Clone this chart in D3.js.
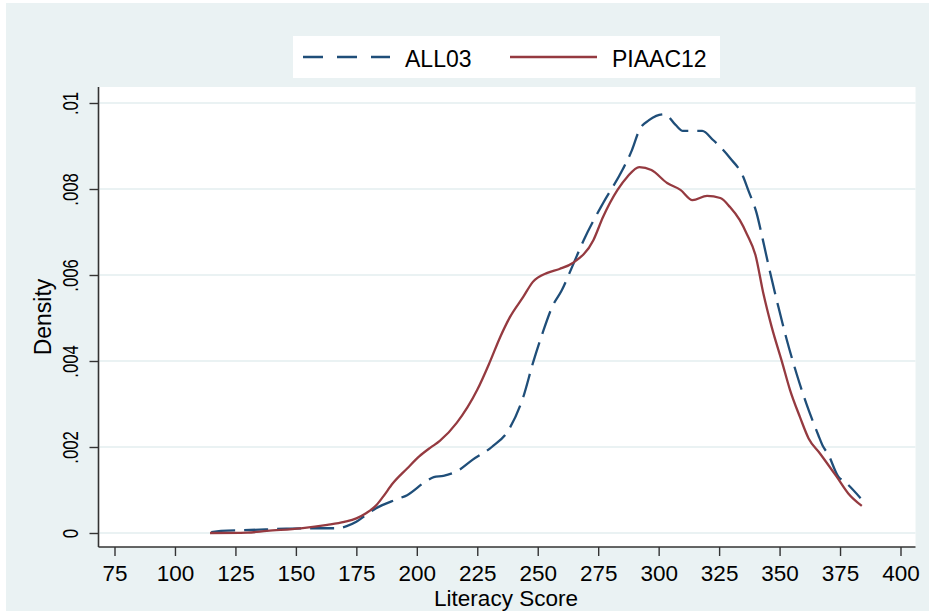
<!DOCTYPE html>
<html>
<head>
<meta charset="utf-8">
<script src="https://cdn.jsdelivr.net/npm/d3@7"></script>
<style>
    body { margin: 0; background: #ffffff; }
    svg { display: block; }
    text { font-family: "Liberation Sans", Arial, sans-serif; fill: #000; }
</style>
</head>
<body>
<script>
// Density estimates, one pair of arrays per survey.
var all03Score = [115, 119, 131, 146, 157, 167, 171, 175, 179, 183, 192, 196,
    204, 207, 211, 217, 223, 231, 238, 244, 248, 252, 256, 260, 264, 269, 277,
    285, 289, 292, 296, 299, 302.5, 307, 310, 318, 322.5, 329.5, 335, 337,
    340.5, 343, 346, 349.5, 353, 357, 361, 366, 368, 370, 374.3, 377, 383.5];
var all03Density = [0.00002, 0.00005, 0.00007, 0.0001, 0.00011, 0.00011,
    0.00016, 0.00026, 0.00042, 0.00057, 0.00079, 0.00088, 0.00121, 0.0013,
    0.00133, 0.00145, 0.0017, 0.002, 0.0024, 0.00316, 0.00395, 0.00465,
    0.00526, 0.00565, 0.00616, 0.00681, 0.00767, 0.00844, 0.00891, 0.00937,
    0.0096, 0.0097, 0.00974, 0.00949, 0.00935, 0.00935, 0.00914, 0.00872,
    0.00828, 0.00798, 0.00744, 0.00684, 0.00608, 0.00526, 0.00449, 0.00371,
    0.00302, 0.00228, 0.00201, 0.00184, 0.00131, 0.00119, 0.00081];

var piaacScore = [114.5, 130, 138, 152, 163, 170, 175, 179, 183, 186, 190,
    196, 201, 205.5, 209.5, 216.5, 225, 230, 234.5, 238.5, 244, 248, 254, 259,
    264.5, 273, 277, 283, 287, 292, 297, 303.5, 309, 314, 320, 325.5, 329.5,
    333.5, 336.5, 340, 343.3, 346.7, 351, 354.3, 358.4, 362, 366.7, 373.6,
    378.4, 384];
var piaacDensity = [0.0, 0.00001, 0.00005, 0.00011, 0.00019, 0.00026,
    0.00034, 0.00046, 0.00063, 0.00084, 0.00115, 0.0015, 0.00178, 0.00198,
    0.00214, 0.00256, 0.00333, 0.00395, 0.00456, 0.00502, 0.00549, 0.00584,
    0.00605, 0.00614, 0.00628, 0.00681, 0.00735, 0.00798, 0.00828, 0.00851,
    0.00844, 0.00814, 0.00798, 0.00774, 0.00784, 0.00779, 0.00758, 0.00728,
    0.00695, 0.00647, 0.00557, 0.0048, 0.00398, 0.00333, 0.0027, 0.0022,
    0.00185, 0.00131, 0.00092, 0.00063];

// Axis ticks and the Stata style labels on the y axis
var xTicks = [75, 100, 125, 150, 175, 200, 225, 250, 275, 300, 325, 350, 375,
    400];
var yTicks = [0, 0.002, 0.004, 0.006, 0.008, 0.01];
var yTickLabels = ["0", ".002", ".004", ".006", ".008", ".01"];

var seriesNames = ["ALL03", "PIAAC12"];
var seriesColors = ["#1f4e79", "#953a40"];

var W = 929, H = 611;
// Plot region (the white box) and the part the scales map onto
var plot = {left: 98.5, right: 915.5, top: 87, bottom: 547};

var svg = d3.select("body").append("svg")
    .attr("width", W)
    .attr("height", H);

// Outer graph background, leaving a thin white edge top and left
svg.append("rect")
    .attr("x", 6).attr("y", 3)
    .attr("width", W - 6).attr("height", H - 3)
    .attr("fill", "#eaf2f3");

svg.append("rect")
    .attr("x", plot.left).attr("y", plot.top)
    .attr("width", plot.right - plot.left)
    .attr("height", plot.bottom - plot.top)
    .attr("fill", "#ffffff");

var xScale = d3.scaleLinear().domain([75, 400]).range([114.5, 900.5]);
var yScale = d3.scaleLinear().domain([0, 0.01]).range([533, 103]);

// Horizontal grid lines at every y tick
svg.append("g")
    .selectAll("line")
    .data(yTicks)
    .enter()
    .append("line")
    .attr("x1", plot.left + 1)
    .attr("x2", plot.right)
    .attr("y1", function(d) { return yScale(d); })
    .attr("y2", function(d) { return yScale(d); })
    .attr("stroke", "#eaf2f3")
    .attr("stroke-width", 2);

// x axis: line along the bottom of the plot region, ticks pointing down
var xAxis = d3.axisBottom(xScale)
    .tickValues(xTicks)
    .tickSize(9)
    .tickSizeOuter(0);

var gx = svg.append("g")
    .attr("transform", "translate(0," + plot.bottom + ")")
    .call(xAxis);
gx.select(".domain").remove();
gx.append("line")
    .attr("x1", plot.left).attr("x2", plot.right)
    .attr("y1", 0).attr("y2", 0)
    .attr("stroke", "#333").attr("stroke-width", 1.6);
gx.selectAll(".tick line").attr("stroke", "#333").attr("stroke-width", 1.4);
gx.selectAll(".tick text")
    .attr("font-size", "22.5px")
    .attr("font-family", "Liberation Sans, Arial, sans-serif")
    .attr("fill", "#000")
    .attr("dy", null)
    .attr("y", 33.5);

// y axis: labels turned on their side like Stata does
var yAxis = d3.axisLeft(yScale)
    .tickValues(yTicks)
    .tickSize(9)
    .tickSizeOuter(0)
    .tickFormat(function(d, i) { return yTickLabels[i]; });

var gy = svg.append("g")
    .attr("transform", "translate(" + plot.left + ",0)")
    .call(yAxis);
gy.select(".domain").remove();
gy.append("line")
    .attr("x1", 0).attr("x2", 0)
    .attr("y1", plot.top).attr("y2", plot.bottom)
    .attr("stroke", "#333").attr("stroke-width", 1.6);
gy.selectAll(".tick line").attr("stroke", "#333").attr("stroke-width", 1.4);
gy.selectAll(".tick text")
    .attr("x", null).attr("dy", null)
    .attr("font-size", "22px")
    .attr("font-family", "Liberation Sans, Arial, sans-serif")
    .attr("fill", "#000")
    .attr("text-anchor", "middle")
    .attr("transform", "translate(-21,0) rotate(-90) scale(0.76,1)");

// Axis titles
svg.append("text")
    .attr("x", 506).attr("y", 606)
    .attr("text-anchor", "middle")
    .attr("font-size", "22.5px")
    .text("Literacy Score");

svg.append("text")
    .attr("text-anchor", "middle")
    .attr("transform", "translate(51," + (plot.top + plot.bottom) / 2 +
        ") rotate(-90)")
    .attr("font-size", "23px")
    .text("Density");

// The two density curves
var line = d3.line()
    .x(function(d) { return xScale(d[0]); })
    .y(function(d) { return yScale(d[1]); })
    .curve(d3.curveMonotoneX);

var all03 = d3.zip(all03Score, all03Density);
var piaac = d3.zip(piaacScore, piaacDensity);

svg.append("path")
    .datum(all03)
    .attr("d", line)
    .attr("fill", "none")
    .attr("stroke", seriesColors[0])
    .attr("stroke-width", 2.3)
    .attr("stroke-dasharray", "24,9");

svg.append("path")
    .datum(piaac)
    .attr("d", line)
    .attr("fill", "none")
    .attr("stroke", seriesColors[1])
    .attr("stroke-width", 2.3);

// Legend box above the plot
var legend = svg.append("g");
legend.append("rect")
    .attr("x", 293).attr("y", 36)
    .attr("width", 427).attr("height", 42)
    .attr("fill", "#ffffff");

var legendX = [303, 510];
seriesNames.forEach(function(name, i) {
    legend.append("line")
        .attr("x1", legendX[i]).attr("x2", legendX[i] + 87)
        .attr("y1", 57).attr("y2", 57)
        .attr("stroke", seriesColors[i])
        .attr("stroke-width", 2.3)
        .attr("stroke-dasharray", i === 0 ? "20,14" : null);
    legend.append("text")
        .attr("x", legendX[i] + 102).attr("y", 66.5)
        .attr("font-size", "23px")
        .text(name);
});
</script>
</body>
</html>
